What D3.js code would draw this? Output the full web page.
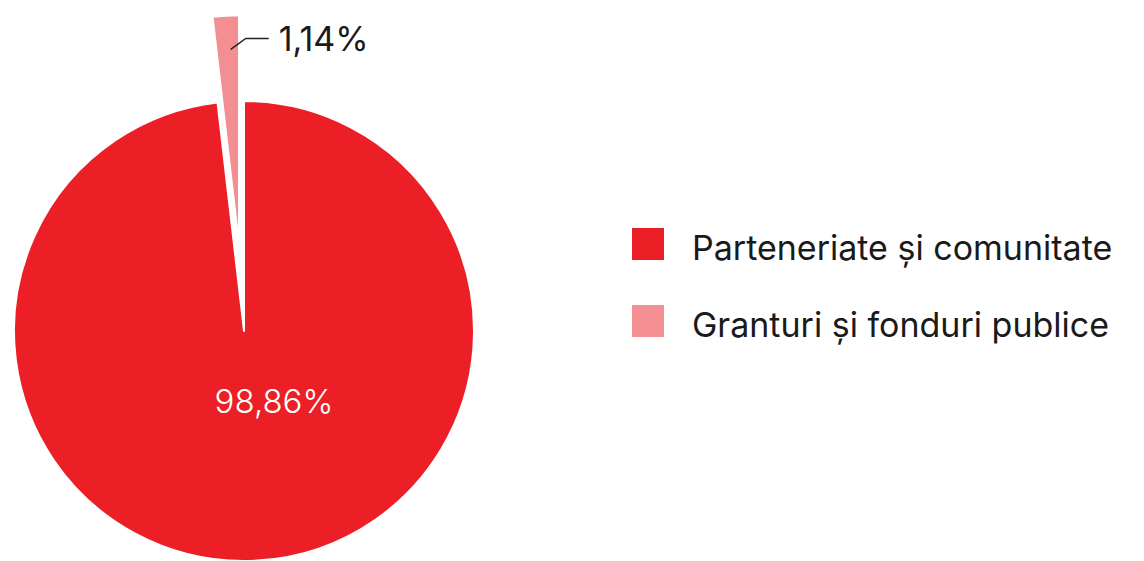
<!DOCTYPE html>
<html>
<head>
<meta charset="utf-8">
<script src="https://cdn.jsdelivr.net/npm/d3@7"></script>
<style>
  body { margin: 0; background: #fff; }
  svg { display: block; font-family: Inter, "Noto Sans", sans-serif; }
</style>
</head>
<body>
<div id="chart"></div>
<script>
const categories = ['Parteneriate și comunitate', 'Granturi și fonduri publice'];
const values = [98.86, 1.14];
const valueLabels = ['98,86%', '1,14%'];
const colors = ['#ED1F26', '#F38E92'];

const width = 1144;
const height = 561;
const cx = 244;
const cy = 331;
const radius = 230;
const explode = 86;
// the source chart draws tiny slices wider than their share so they stay visible
const minShare = 1.85;

const svg = d3.select('#chart').append('svg').attr('width', width).attr('height', height);

const pie = d3.pie().sort(null).value(d => Math.max(d.value, minShare));
const arcs = pie(categories.map((c, i) => ({name: c, value: values[i], label: valueLabels[i], color: colors[i]})));
const arc = d3.arc().innerRadius(0).outerRadius(radius);

function offset(d, i) {
    if (i === 0) return [0, 0];
    const a = (d.startAngle + d.endAngle) / 2;
    return [Math.sin(a) * explode, -Math.cos(a) * explode];
}

const g = svg.append('g').attr('transform', `translate(${cx},${cy})`);

g.selectAll('path').data(arcs).join('path')
    .attr('d', arc)
    .attr('transform', (d, i) => { const o = offset(d, i); return `translate(${o[0]},${o[1]})`; })
    .attr('fill', d => d.data.color)
    .attr('stroke', '#fff')
    .attr('stroke-width', 2)
    .attr('stroke-linejoin', 'round');

// big slice label
g.append('text')
    .attr('x', 30).attr('y', 70)
    .attr('text-anchor', 'middle').attr('dominant-baseline', 'central')
    .attr('fill', '#fff').attr('font-size', 33).attr('font-weight', 300)
    .text(arcs[0].data.label);

// small slice label with leader
const small = arcs[1];
const o = offset(small, 1);
const mid = (small.startAngle + small.endAngle) / 2;
const p0 = [o[0] + Math.sin(mid) * 196 + 3, o[1] - Math.cos(mid) * 196];
const p1 = [p0[0] + 15, p0[1] - 11];
const p2 = [p1[0] + 23, p1[1]];
g.append('path')
    .attr('d', d3.line()([p0, p1, p2]))
    .attr('fill', 'none').attr('stroke', '#222').attr('stroke-width', 1.5);
g.append('text')
    .attr('x', p2[0] + 10).attr('y', p2[1])
    .attr('dominant-baseline', 'central')
    .attr('fill', '#1a1a1a').attr('font-size', 34)
    .text(small.data.label);

// legend
const legend = svg.append('g').attr('transform', 'translate(632,228)');
const items = legend.selectAll('g').data(arcs).join('g')
    .attr('transform', (d, i) => `translate(0,${i * 77})`);
items.append('rect').attr('width', 32).attr('height', 32).attr('fill', d => d.data.color);
items.append('text')
    .attr('x', 60).attr('y', 32)
    .attr('fill', '#1a1a1a').attr('font-size', 34)
    .text(d => d.data.name);
</script>
</body>
</html>
